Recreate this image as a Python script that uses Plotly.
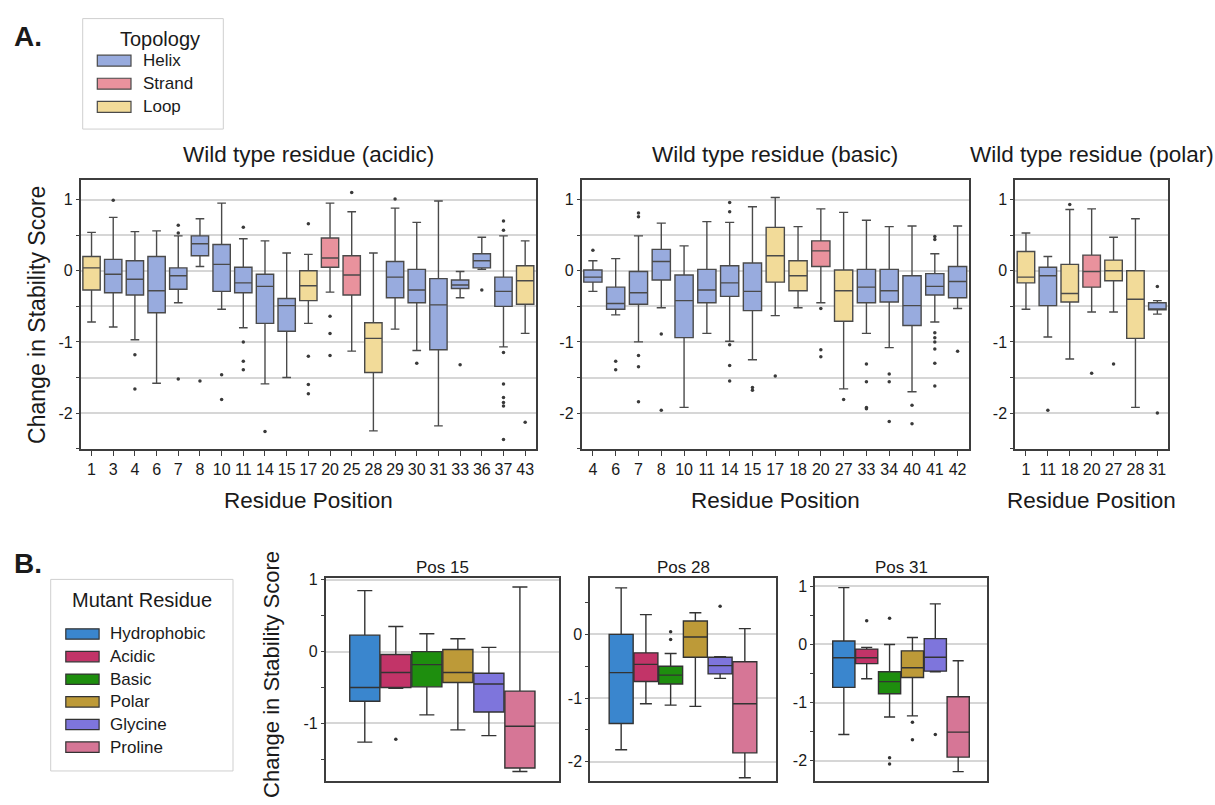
import plotly.graph_objects as go

# ---------------- data ----------------
topologies = ["Helix", "Strand", "Loop"]
topology_colors = ["#98ABDE", "#E9929D", "#F2DB99"]

acidic_positions = [1, 3, 4, 6, 7, 8, 10, 11, 14, 15, 17, 20, 25, 28, 29, 30, 31, 33, 36, 37, 43]
acidic_topology = ["Loop", "Helix", "Helix", "Helix", "Helix", "Helix", "Helix", "Helix", "Helix", "Helix",
                   "Loop", "Strand", "Strand", "Loop", "Helix", "Helix", "Helix", "Helix", "Helix", "Helix", "Loop"]
acidic_lower = [-0.72, -0.79, -0.97, -1.58, -0.45, 0.06, -0.54, -0.80, -1.59, -1.50, -0.74, -0.30, -1.13, -2.25,
                -0.82, -1.12, -2.18, -0.38, 0.02, -1.07, -0.88]
acidic_q1 = [-0.27, -0.31, -0.34, -0.59, -0.26, 0.21, -0.29, -0.31, -0.74, -0.85, -0.42, 0.05, -0.34, -1.43,
             -0.38, -0.45, -1.11, -0.25, 0.04, -0.50, -0.47]
acidic_median = [0.04, -0.05, -0.12, -0.28, -0.07, 0.38, 0.09, -0.17, -0.22, -0.49, -0.21, 0.18, -0.06, -0.95,
                 -0.09, -0.27, -0.48, -0.20, 0.14, -0.29, -0.14]
acidic_q3 = [0.20, 0.16, 0.14, 0.20, 0.04, 0.49, 0.37, 0.05, -0.05, -0.39, 0.00, 0.46, 0.21, -0.73,
             0.13, 0.02, -0.11, -0.13, 0.24, -0.09, 0.07]
acidic_upper = [0.54, 0.75, 0.55, 0.56, 0.49, 0.73, 0.95, 0.45, 0.42, 0.25, 0.23, 0.95, 0.83, 0.25,
                0.88, 0.68, 0.98, -0.01, 0.47, 0.49, 0.42]
acidic_outlier_pos = [3, 4, 4, 7, 7, 7, 8, 10, 10, 11, 11, 11, 11, 14, 17, 17, 17, 17, 20, 20, 20, 25, 29, 30,
                      33, 36, 37, 37, 37, 37, 37, 37, 37, 37, 43]
acidic_outlier_val = [0.99, -1.18, -1.66, 0.64, 0.53, -1.52, -1.55, -1.46, -1.81, 0.61, -1.00, -1.27, -1.39,
                      -2.26, 0.66, -1.20, -1.60, -1.73, -0.64, -0.88, -1.19, 1.10, 1.01, -1.30, -1.32, -0.27,
                      0.70, 0.57, -1.15, -1.59, -1.78, -1.85, -1.90, -2.37, -2.13]

basic_positions = [4, 6, 7, 8, 10, 11, 14, 15, 17, 18, 20, 27, 33, 34, 40, 41, 42]
basic_topology = ["Helix", "Helix", "Helix", "Helix", "Helix", "Helix", "Helix", "Helix", "Loop", "Loop",
                  "Strand", "Loop", "Helix", "Helix", "Helix", "Helix", "Helix"]
basic_lower = [-0.29, -0.62, -1.00, -0.52, -1.92, -0.88, -0.99, -1.25, -0.63, -0.52, -0.45, -1.66, -0.88,
               -1.08, -1.70, -0.72, -0.53]
basic_q1 = [-0.16, -0.54, -0.47, -0.13, -0.94, -0.45, -0.36, -0.56, -0.16, -0.28, 0.06, -0.71, -0.45,
            -0.44, -0.77, -0.34, -0.38]
basic_median = [-0.09, -0.46, -0.31, 0.13, -0.42, -0.27, -0.17, -0.29, 0.21, -0.07, 0.28, -0.28, -0.23,
                -0.28, -0.49, -0.22, -0.15]
basic_q3 = [0.01, -0.23, -0.01, 0.30, -0.06, 0.02, 0.07, 0.11, 0.61, 0.14, 0.42, 0.01, 0.02,
            0.02, -0.07, -0.04, 0.06]
basic_upper = [0.14, 0.17, 0.49, 0.67, 0.35, 0.69, 0.68, 0.90, 1.03, 0.62, 0.87, 0.82, 0.71,
               0.62, 0.63, 0.24, 0.63]
basic_outlier_pos = [4, 6, 6, 7, 7, 7, 7, 7, 8, 8, 14, 14, 14, 14, 14, 15, 15, 17, 20, 20, 20, 27,
                     33, 33, 33, 33, 34, 34, 34, 40, 40, 41, 41, 41, 41, 41, 41, 41, 41, 42]
basic_outlier_val = [0.29, -1.27, -1.39, 0.81, 0.76, -1.19, -1.35, -1.84, -0.89, -1.96, 0.96, 0.83, -1.04,
                     -1.33, -1.55, -1.64, -1.68, -1.48, -0.53, -1.11, -1.21, -1.81, -1.31, -1.56, -1.92,
                     -1.94, -1.45, -1.56, -2.12, -1.89, -2.15, 0.48, 0.44, -0.87, -0.94, -1.00, -1.10,
                     -1.30, -1.62, -1.13]

polar_positions = [1, 11, 18, 20, 27, 28, 31]
polar_topology = ["Loop", "Helix", "Loop", "Strand", "Loop", "Loop", "Helix"]
polar_lower = [-0.54, -0.93, -1.24, -0.58, -0.58, -1.92, -0.61]
polar_q1 = [-0.17, -0.49, -0.44, -0.23, -0.14, -0.95, -0.55]
polar_median = [-0.09, -0.07, -0.32, -0.01, 0.00, -0.40, -0.54]
polar_q3 = [0.27, 0.05, 0.09, 0.22, 0.15, 0.00, -0.45]
polar_upper = [0.53, 0.20, 0.86, 0.87, 0.47, 0.73, -0.42]
polar_outlier_pos = [11, 18, 20, 27, 31, 31]
polar_outlier_val = [-1.96, 0.93, -1.44, -1.31, -0.22, -2.00]

mutant_types = ["Hydrophobic", "Acidic", "Basic", "Polar", "Glycine", "Proline"]
mutant_colors = ["#3A86CE", "#C23468", "#1E8E0E", "#BD9A38", "#7E75DC", "#D67696"]

pos15_lower = [-1.26, -0.51, -0.88, -1.09, -1.17, -1.67]
pos15_q1 = [-0.69, -0.50, -0.49, -0.43, -0.84, -1.62]
pos15_median = [-0.50, -0.29, -0.18, -0.29, -0.45, -1.04]
pos15_q3 = [0.23, -0.04, 0.00, 0.03, -0.30, -0.55]
pos15_upper = [0.85, 0.35, 0.25, 0.18, 0.06, 0.90]
pos15_outlier_type = ["Acidic"]
pos15_outlier_val = [-1.22]

pos28_lower = [-1.81, -1.09, -1.11, -1.13, -0.69, -2.25]
pos28_q1 = [-1.40, -0.74, -0.78, -0.36, -0.62, -1.86]
pos28_median = [-0.60, -0.47, -0.64, -0.04, -0.49, -1.09]
pos28_q3 = [0.00, -0.29, -0.50, 0.21, -0.36, -0.43]
pos28_upper = [0.73, 0.31, -0.30, 0.34, -0.35, 0.09]
pos28_outlier_type = ["Basic", "Basic", "Glycine"]
pos28_outlier_val = [0.04, -0.08, 0.44]

pos31_lower = [-1.55, -0.59, -1.25, -1.23, -0.47, -2.19]
pos31_q1 = [-0.74, -0.33, -0.85, -0.57, -0.46, -1.94]
pos31_median = [-0.23, -0.23, -0.64, -0.40, -0.22, -1.51]
pos31_q3 = [0.06, -0.08, -0.47, -0.11, 0.10, -0.90]
pos31_upper = [0.98, -0.05, 0.00, 0.12, 0.70, -0.28]
pos31_outlier_type = ["Acidic", "Basic", "Basic", "Basic", "Polar", "Polar", "Glycine"]
pos31_outlier_val = [0.41, 0.45, -1.95, -2.06, -1.34, -1.64, -1.55]

A_ytick_vals = [-2, -1, 0, 1]
A_ytick_text = ["-2", "-1", "0", "1"]
A_minor_vals = [-2.5, -1.5, -0.5, 0.5]

# ---------------- layout helpers ----------------
W, H = 1215, 805
FONT = "Liberation Sans, Arial, Helvetica, sans-serif"
FRAME = "#3d3d3d"
GRID = "#d6d6d6"
TXT = "#1a1a1a"


def fx(p):
    return p / W


def fy(p):
    return 1 - p / H


fig = go.Figure()
layout = {}
annotations = []
shapes = []


def ax_names(i):
    return ("x" if i == 1 else f"x{i}", "y" if i == 1 else f"y{i}",
            "xaxis" if i == 1 else f"xaxis{i}", "yaxis" if i == 1 else f"yaxis{i}")


def text(x, y, s, size, anchor="center", bold=False, angle=0):
    annotations.append(dict(x=fx(x), y=fy(y), xref="paper", yref="paper", text=f"<b>{s}</b>" if bold else s,
                            showarrow=False, xanchor=anchor, yanchor="middle", textangle=angle,
                            font=dict(family=FONT, size=size, color=TXT)))


# ---------------- Panel A ----------------
A_TOP, A_BOT = 175.7, 446.7
panelsA = [
    dict(title="Wild type residue (acidic)", pos=acidic_positions, topo=acidic_topology, lo=acidic_lower,
         q1=acidic_q1, med=acidic_median, q3=acidic_q3, hi=acidic_upper,
         opos=acidic_outlier_pos, oval=acidic_outlier_val, x0=80.7, x1=536.0),
    dict(title="Wild type residue (basic)", pos=basic_positions, topo=basic_topology, lo=basic_lower,
         q1=basic_q1, med=basic_median, q3=basic_q3, hi=basic_upper,
         opos=basic_outlier_pos, oval=basic_outlier_val, x0=581.5, x1=969.0),
    dict(title="Wild type residue (polar)", pos=polar_positions, topo=polar_topology, lo=polar_lower,
         q1=polar_q1, med=polar_median, q3=polar_q3, hi=polar_upper,
         opos=polar_outlier_pos, oval=polar_outlier_val, x0=1015.0, x1=1168.3),
]

for k, p in enumerate(panelsA):
    xa, ya, xk, yk = ax_names(k + 1)
    cats = [str(v) for v in p["pos"]]
    for t, c in zip(topologies, topology_colors):
        idx = [j for j, tt in enumerate(p["topo"]) if tt == t]
        if not idx:
            continue
        fig.add_trace(go.Box(
            x=[cats[j] for j in idx],
            q1=[p["q1"][j] for j in idx], median=[p["med"][j] for j in idx],
            q3=[p["q3"][j] for j in idx], lowerfence=[p["lo"][j] for j in idx],
            upperfence=[p["hi"][j] for j in idx], orientation="v",
            fillcolor=c, line=dict(color="#4a4a4a", width=1.4), width=0.8, whiskerwidth=0.5,
            boxpoints=False, name=t, showlegend=False, xaxis=xa, yaxis=ya))
    fig.add_trace(go.Scatter(x=[str(v) for v in p["opos"]], y=p["oval"], mode="markers",
                             marker=dict(size=3.5, color="#3a3a3a"), showlegend=False,
                             xaxis=xa, yaxis=ya, hoverinfo="y"))
    layout[xk] = dict(domain=[fx(p["x0"]), fx(p["x1"])], anchor=ya, type="category",
                      categoryorder="array", categoryarray=cats, range=[-0.5, len(cats) - 0.5],
                      showline=True, mirror=True, linecolor=FRAME, linewidth=1.5,
                      ticks="outside", ticklen=5, tickcolor=FRAME, tickwidth=1.2,
                      tickfont=dict(family=FONT, size=16, color=TXT), showgrid=False, zeroline=False)
    layout[yk] = dict(domain=[fy(A_BOT), fy(A_TOP)], anchor=xa, range=[-2.51, 1.27],
                      tickmode="array", tickvals=A_ytick_vals, ticktext=A_ytick_text,
                      ticks="outside", ticklen=3, tickcolor=FRAME,
                      tickfont=dict(family=FONT, size=16, color=TXT),
                      showgrid=True, gridcolor=GRID, gridwidth=1.5, zeroline=False,
                      minor=dict(tickmode="array", tickvals=A_minor_vals, ticks="outside", ticklen=3,
                                 tickcolor=FRAME, showgrid=True, gridcolor=GRID, gridwidth=1.5),
                      showline=True, mirror=True, linecolor=FRAME, linewidth=1.5)
    cx = (p["x0"] + p["x1"]) / 2
    text(cx, 150, p["title"], 22.5)
    text(cx, 498, "Residue Position", 22.5)

text(37.5, 311.7, "Change in Stability Score", 23, angle=-90)
text(27.5, 31, "A.", 28, bold=True)

# Topology legend
shapes.append(dict(type="rect", xref="paper", yref="paper", x0=fx(82.7), x1=fx(223.3), y0=fy(124), y1=fy(12.7),
                   line=dict(color="#cfcfcf", width=1), fillcolor="white", layer="below"))
text(159.6, 33.3, "Topology", 20)
for n, (t, c) in enumerate(zip(topologies, topology_colors)):
    yc = 55 + n * 23.3
    shapes.append(dict(type="rect", xref="paper", yref="paper", x0=fx(97.3), x1=fx(131), y0=fy(yc + 5.5),
                       y1=fy(yc - 5.5), line=dict(color="#4a4a4a", width=1.2), fillcolor=c))
    text(140.7, yc, t, 17, anchor="left")

# ---------------- Panel B ----------------
B_TOP, B_BOT = 576.0, 780.7
panelsB = [
    dict(title="Pos 15", lo=pos15_lower, q1=pos15_q1, med=pos15_median, q3=pos15_q3, hi=pos15_upper,
         otype=pos15_outlier_type, oval=pos15_outlier_val, x0=325.7, x1=559.0, yr=[-1.80, 1.03],
         ticks=[-1, 0, 1], minor=[-1.5, -0.5, 0.5]),
    dict(title="Pos 28", lo=pos28_lower, q1=pos28_q1, med=pos28_median, q3=pos28_q3, hi=pos28_upper,
         otype=pos28_outlier_type, oval=pos28_outlier_val, x0=590.0, x1=776.0, yr=[-2.30, 0.89],
         ticks=[-2, -1, 0], minor=[-1.5, -0.5, 0.5]),
    dict(title="Pos 31", lo=pos31_lower, q1=pos31_q1, med=pos31_median, q3=pos31_q3, hi=pos31_upper,
         otype=pos31_outlier_type, oval=pos31_outlier_val, x0=815.0, x1=987.0, yr=[-2.35, 1.15],
         ticks=[-2, -1, 0, 1], minor=[-1.5, -0.5, 0.5]),
]

for k, p in enumerate(panelsB):
    xa, ya, xk, yk = ax_names(k + 4)
    for j, (m, c) in enumerate(zip(mutant_types, mutant_colors)):
        fig.add_trace(go.Box(
            x=[m], q1=[p["q1"][j]], median=[p["med"][j]], q3=[p["q3"][j]],
            lowerfence=[p["lo"][j]], upperfence=[p["hi"][j]], orientation="v",
            fillcolor=c, line=dict(color="#333333", width=1.4), width=0.97, whiskerwidth=0.5,
            boxpoints=False, name=m, showlegend=False, xaxis=xa, yaxis=ya))
    fig.add_trace(go.Scatter(x=p["otype"], y=p["oval"], mode="markers",
                             marker=dict(size=3.5, color="#333333"), showlegend=False,
                             xaxis=xa, yaxis=ya, hoverinfo="y"))
    layout[xk] = dict(domain=[fx(p["x0"]), fx(p["x1"])], anchor=ya, type="category",
                      categoryorder="array", categoryarray=mutant_types, range=[-1.26, 6.26],
                      showline=True, mirror=True, linecolor=FRAME, linewidth=1.5,
                      showticklabels=False, ticks="", showgrid=False, zeroline=False)
    layout[yk] = dict(domain=[fy(B_BOT), fy(B_TOP)], anchor=xa, range=p["yr"],
                      tickmode="array", tickvals=p["ticks"], ticktext=[str(v) for v in p["ticks"]],
                      ticks="outside", ticklen=3, tickcolor=FRAME,
                      tickfont=dict(family=FONT, size=16, color=TXT),
                      showgrid=True, gridcolor=GRID, gridwidth=1.5, zeroline=False,
                      minor=dict(tickmode="array", tickvals=p["minor"], ticks="outside", ticklen=3,
                                 tickcolor=FRAME, showgrid=False),
                      showline=True, mirror=True, linecolor=FRAME, linewidth=1.5)
    text((p["x0"] + p["x1"]) / 2, 566, p["title"], 17)

text(272, 674, "Change in Stability Score", 22, angle=-90)
text(27.8, 562, "B.", 28, bold=True)

# Mutant legend
shapes.append(dict(type="rect", xref="paper", yref="paper", x0=fx(50.7), x1=fx(233), y0=fy(770.7), y1=fy(577.7),
                   line=dict(color="#cfcfcf", width=1), fillcolor="white", layer="below"))
text(141.7, 598.3, "Mutant Residue", 20)
for n, (m, c) in enumerate(zip(mutant_types, mutant_colors)):
    yc = 632.7 + n * 22.8
    shapes.append(dict(type="rect", xref="paper", yref="paper", x0=fx(65.8), x1=fx(99.1), y0=fy(yc + 5.2),
                       y1=fy(yc - 5.2), line=dict(color="#333333", width=1.2), fillcolor=c))
    text(108.4, yc, m, 17, anchor="left")

fig.update_layout(width=W, height=H, margin=dict(l=0, r=0, t=0, b=0), paper_bgcolor="white",
                  plot_bgcolor="white", boxmode="overlay", showlegend=False,
                  annotations=annotations, shapes=shapes, font=dict(family=FONT), **layout)

fig.write_html("out.html")
